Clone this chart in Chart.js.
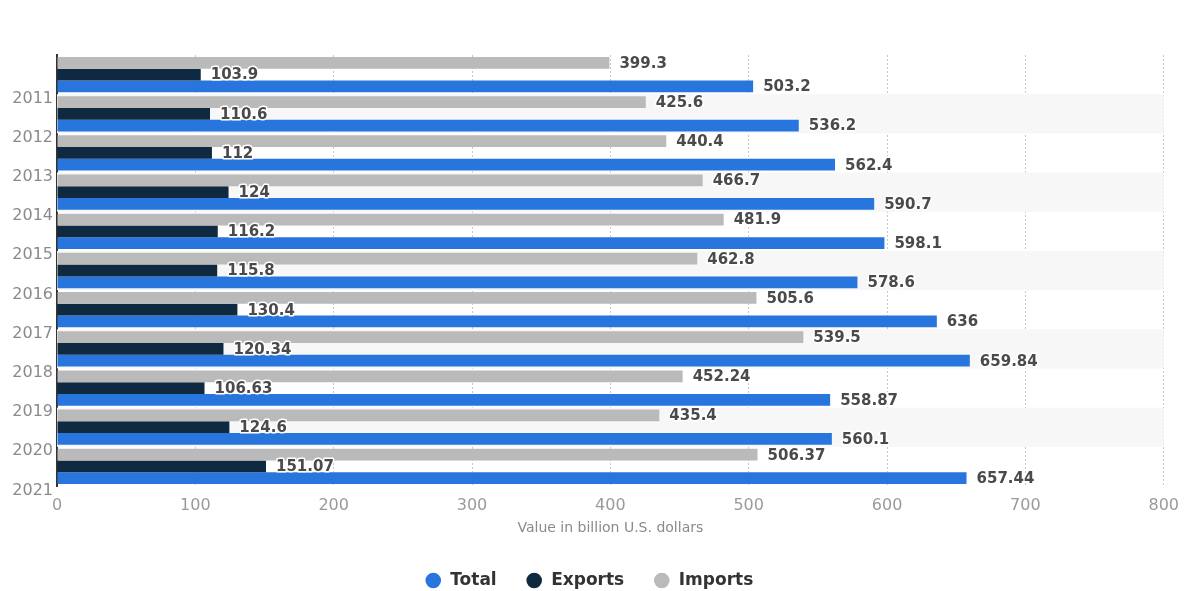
<!DOCTYPE html>
<html>
<head>
<meta charset="utf-8">
<script src="https://cdn.jsdelivr.net/npm/chart.js@4.4.1/dist/chart.umd.min.js"></script>
<style>
  html, body { margin: 0; padding: 0; background: #fff; }
  #wrap { width: 1189px; height: 591px; position: relative; }
</style>
</head>
<body>
<div id="wrap"><canvas id="chart"></canvas></div>
<script>
// --- DATA ---
const years = ["2011", "2012", "2013", "2014", "2015", "2016", "2017", "2018", "2019", "2020", "2021"];
const imports = [399.3, 425.6, 440.4, 466.7, 481.9, 462.8, 505.6, 539.5, 452.24, 435.4, 506.37];
const exports = [103.9, 110.6, 112, 124, 116.2, 115.8, 130.4, 120.34, 106.63, 124.6, 151.07];
const total = [503.2, 536.2, 562.4, 590.7, 598.1, 578.6, 636, 659.84, 558.87, 560.1, 657.44];
const xTicks = [0, 100, 200, 300, 400, 500, 600, 700, 800];

const FONT = "'DejaVu Sans', Verdana, sans-serif";

// striped background for every second year band
const stripes = {
    id: "stripes",
    beforeDatasetsDraw(chart) {
        const { ctx, chartArea, scales: { y } } = chart;
        const half = (y.getPixelForValue(1) - y.getPixelForValue(0)) / 2;
        ctx.save();
        ctx.fillStyle = "#f7f7f7";
        years.forEach((yr, i) => {
            if (i % 2 === 1) {
                const c = y.getPixelForValue(i);
                ctx.fillRect(chartArea.left, c - half, chartArea.right - chartArea.left, half * 2);
            }
        });
        ctx.restore();
    }
};

// value labels at bar ends
const valueLabels = {
    id: "valueLabels",
    afterDatasetsDraw(chart) {
        const ctx = chart.ctx;
        ctx.save();
        ctx.font = "bold 15px " + FONT;
        ctx.textBaseline = "middle";
        ctx.textAlign = "left";
        ctx.lineJoin = "round";
        chart.data.datasets.forEach((ds, di) => {
            chart.getDatasetMeta(di).data.forEach((bar, i) => {
                const txt = String(ds.data[i]);
                const x = bar.x + 10, yy = bar.y + 1;
                ctx.strokeStyle = "#ffffff";
                ctx.lineWidth = 3;
                ctx.strokeText(txt, x, yy);
                ctx.fillStyle = "#4a4a4a";
                ctx.fillText(txt, x, yy);
            });
        });
        ctx.restore();
    }
};

new Chart(document.getElementById("chart"), {
    type: "bar",
    data: {
        labels: years,
        datasets: [
            { label: "Imports", data: imports, backgroundColor: "#bababa" },
            { label: "Exports", data: exports, backgroundColor: "#0f2a40" },
            { label: "Total", data: total, backgroundColor: "#2876dd" }
        ]
    },
    options: {
        indexAxis: "y",
        responsive: true,
        maintainAspectRatio: false,
        animation: false,
        datasets: { bar: { categoryPercentage: 0.9, barPercentage: 1.0 } },
        layout: { padding: { top: 55, right: 11, left: 0, bottom: -8 } },
        scales: {
            x: {
                min: 0,
                max: 800,
                afterBuildTicks: (s) => { s.ticks = xTicks.map(v => ({ value: v })); },
                grid: { color: "#c8c8c8", drawTicks: false },
                border: { display: false, dash: [2, 2] },
                ticks: { color: "#9a9a9a", font: { family: FONT, size: 16 }, padding: 10 },
                title: {
                    display: true,
                    text: "Value in billion U.S. dollars",
                    color: "#8a8a8a",
                    font: { family: FONT, size: 14 },
                    padding: { top: 4, bottom: 6 }
                },
                afterFit: (s) => { s.height = 57; }
            },
            y: {
                grid: { display: false, drawTicks: false },
                border: { display: true, color: "#333333", width: 2 },
                ticks: {
                    color: "#8a8a8a",
                    font: { family: FONT, size: 16 },
                    labelOffset: 24,
                    padding: 4
                },
                afterFit: (s) => { s.width = 57; }
            }
        },
        plugins: {
            legend: {
                position: "bottom",
                reverse: true,
                labels: {
                    usePointStyle: true,
                    pointStyle: "circle",
                    boxWidth: 17,
                    boxHeight: 11,
                    color: "#333333",
                    padding: 29,
                    font: { family: FONT, size: 17, weight: "bold" }
                }
            },
            tooltip: { enabled: false }
        }
    },
    plugins: [stripes, valueLabels]
});
</script>
</body>
</html>
